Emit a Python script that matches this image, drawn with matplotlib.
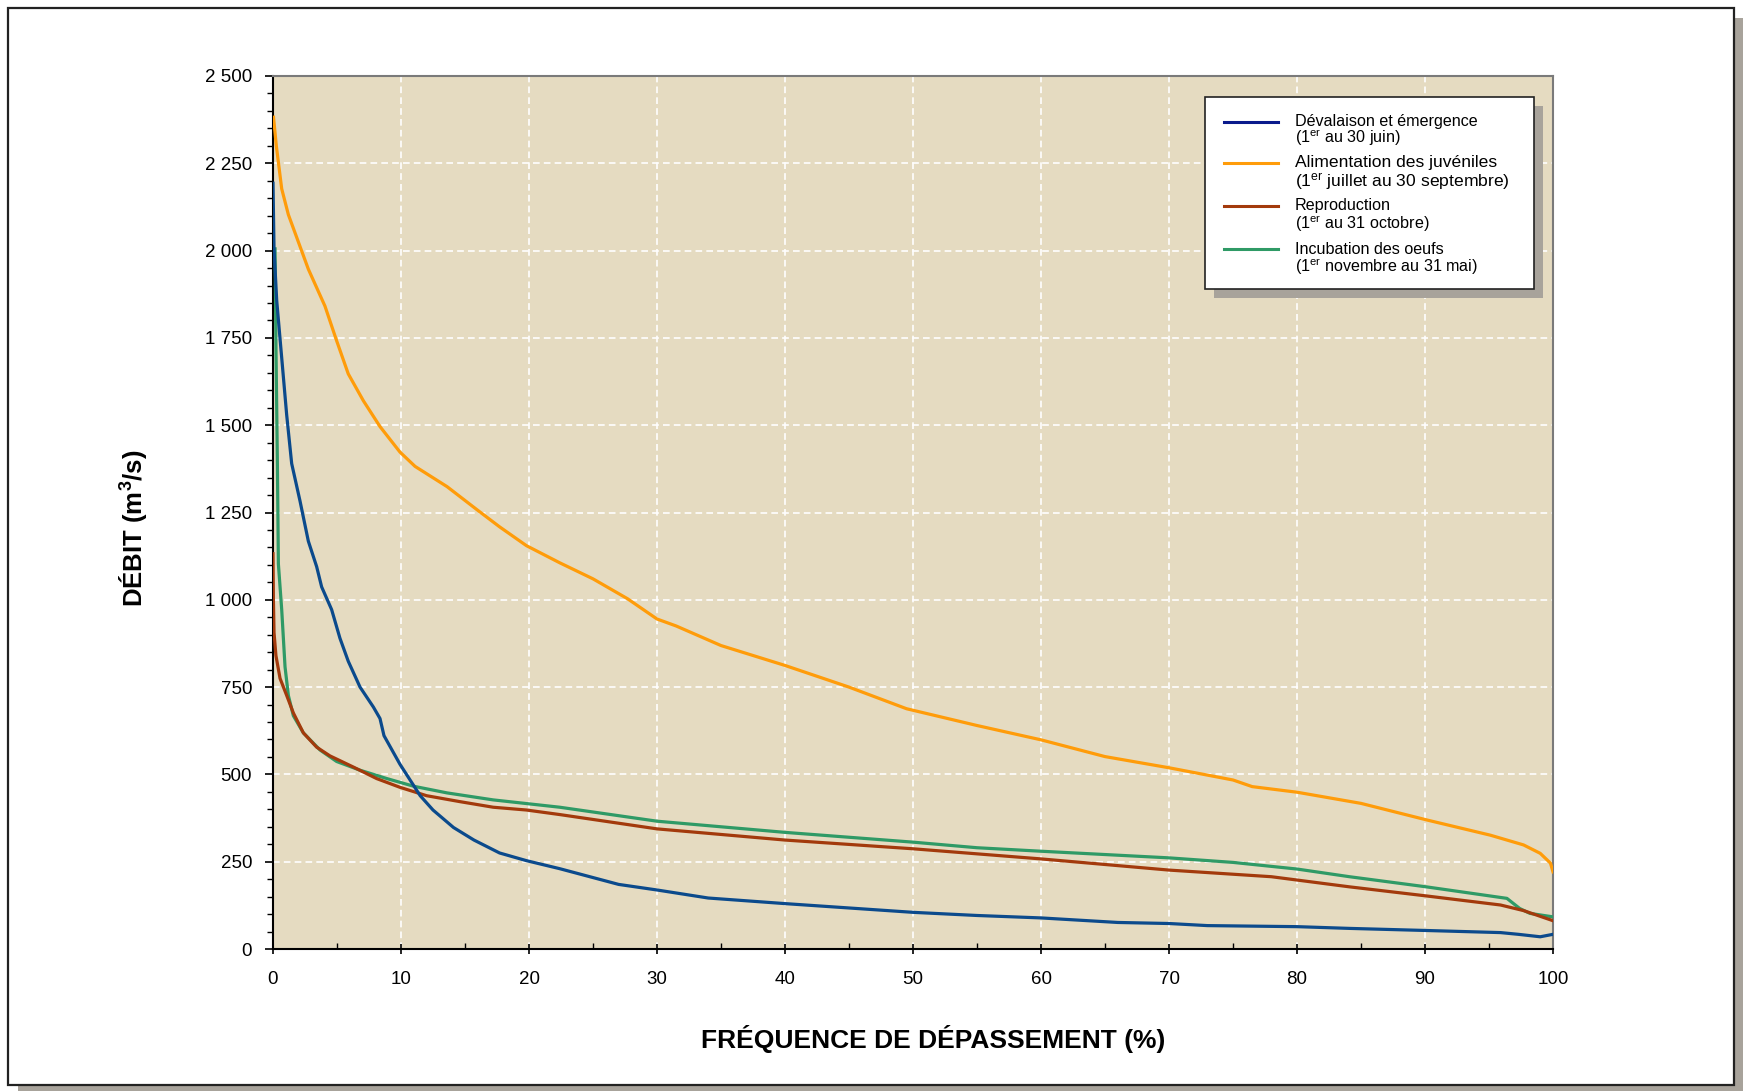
import matplotlib
matplotlib.use("Agg")
import matplotlib.pyplot as plt
from matplotlib.patches import Rectangle
from matplotlib.lines import Line2D
from matplotlib.ticker import MultipleLocator, FuncFormatter

plt.rcParams['font.family'] = ['Liberation Sans', 'DejaVu Sans']
plt.rcParams['mathtext.fontset'] = 'custom'
plt.rcParams['mathtext.rm'] = 'Liberation Sans'
plt.rcParams['mathtext.it'] = 'Liberation Sans:italic'
plt.rcParams['mathtext.bf'] = 'Liberation Sans:bold'

# données
devalaison_x = [0, 0.08, 0.29, 0.68, 1.07, 1.46, 2.11, 2.76, 3.41, 3.8, 4.58, 5.23, 5.88, 6.8,
                7.84, 8.36, 8.67, 9.92, 11.5, 12.5, 14.1, 15.7, 17.7, 19.8, 22.4, 27, 30, 34,
                40, 50, 55, 60, 66, 70, 73, 80, 84.1, 90.1, 95.9, 97.3, 99, 100]
devalaison_y = [2193, 2005, 1857, 1693, 1529, 1390, 1283, 1168, 1095, 1037, 972, 890, 824, 750,
                693, 660, 611, 529, 439, 398, 348, 312, 275, 253, 230, 185, 169, 146,
                130, 105, 96, 89, 76, 73, 67, 64, 59, 53, 47, 42, 35, 42]

alimentation_x = [0.04, 0.26, 0.68, 1.2, 1.85, 2.76, 4.06, 4.97, 5.88, 7.06, 8.36, 9.92, 11.1,
                  13.6, 15.9, 17.7, 19.8, 22.4, 25, 27.7, 30, 31.5, 35, 40, 45, 49.5, 55, 60,
                  65, 70, 75, 76.5, 80, 85, 90.2, 95.1, 97.7, 99.0, 99.8, 100]
alimentation_y = [2382, 2300, 2177, 2103, 2038, 1947, 1841, 1742, 1647, 1570, 1496, 1423, 1382,
                  1324, 1259, 1209, 1155, 1106, 1060, 1003, 945, 925, 869, 812, 750, 688, 640, 599,
                  551, 519, 484, 465, 449, 417, 369, 326, 298, 274, 246, 221]

reproduction_x = [0, 0.03, 0.08, 0.23, 0.55, 1.07, 1.59, 2.37, 3.41, 4.45, 6.28, 8.1, 9.92, 12.0,
                  14.6, 17.2, 19.8, 22.4, 30, 40, 50, 60, 65, 70, 78, 84.1, 90.1, 95.9, 97.7, 100]
reproduction_y = [1132, 1004, 906, 840, 775, 726, 676, 619, 578, 553, 521, 488, 463, 439,
                  422, 406, 398, 385, 344, 312, 287, 258, 242, 226, 207, 178, 152, 126, 110, 81]

incubation_x = [0.16, 0.23, 0.34, 0.42, 0.68, 0.94, 1.2, 1.59, 2.37, 3.67, 4.97, 6.8, 8.9, 11.0,
                13.6, 17.2, 22.4, 30, 40, 50, 55, 60, 70, 75, 80, 84.1, 90.1, 96.4, 97.4, 98.2, 100]
incubation_y = [2005, 1726, 1398, 1103, 972, 808, 726, 668, 619, 570, 537, 512, 488, 466,
                447, 427, 406, 366, 334, 306, 290, 280, 261, 248, 229, 207, 178, 145, 116, 102, 92]

legend_titles = ["Dévalaison et émergence", "Alimentation des juvéniles",
                 "Reproduction", "Incubation des oeufs"]
legend_periods = [r"(1$^{\rm er}$ au 30 juin)", r"(1$^{\rm er}$ juillet au 30 septembre)",
                  r"(1$^{\rm er}$ au 31 octobre)", r"(1$^{\rm er}$ novembre au 31 mai)"]
colors = ['#0b4a8c', '#ff9c0a', '#a33a0c', '#2f9a66']
legend_colors = ['#0a1a8c', '#ff9c0a', '#a33a0c', '#2f9a66']

W, H = 1743, 1091
fig = plt.figure(figsize=(W / 100, H / 100), dpi=100)

# cadre avec ombre
fig.add_artist(Rectangle((18 / W, 0), (W - 18) / W, 1 - 18 / H, transform=fig.transFigure,
                         facecolor='#a8a39b', edgecolor='none', zorder=0))
fig.add_artist(Rectangle((8 / W, 1 - 1085 / H), 1726 / W, 1077 / H, transform=fig.transFigure,
                         facecolor='white', edgecolor='#222222', lw=1.6, zorder=0.5))

ax = fig.add_axes([273 / W, 1 - 949 / H, 1280 / W, 873 / H])
ax.set_facecolor('#e5dbc1')
ax.set_zorder(1)

ax.plot(incubation_x, incubation_y, color=colors[3], lw=2.3, zorder=3)
ax.plot(reproduction_x, reproduction_y, color=colors[2], lw=2.3, zorder=4)
ax.plot(alimentation_x, alimentation_y, color=colors[1], lw=2.3, zorder=4)
ax.plot(devalaison_x, devalaison_y, color=colors[0], lw=2.3, zorder=5)

ax.set_xlim(0, 100)
ax.set_ylim(0, 2500)
ax.xaxis.set_major_locator(MultipleLocator(10))
ax.xaxis.set_minor_locator(MultipleLocator(5))
ax.yaxis.set_major_locator(MultipleLocator(250))
ax.yaxis.set_minor_locator(MultipleLocator(50))
ax.yaxis.set_major_formatter(FuncFormatter(lambda v, p: f"{int(v):,}".replace(",", " ")))

ax.grid(True, which='major', color='white', ls=(0, (4, 2.5)), lw=1.2, zorder=1)
ax.set_axisbelow(True)

ax.tick_params(axis='y', which='major', direction='out', length=6, width=1.2, pad=9,
               labelsize=13.5)
ax.tick_params(axis='y', which='minor', direction='out', length=4, width=1.0)
ax.tick_params(axis='x', which='major', direction='inout', length=7, width=1.2, pad=12,
               labelsize=13.5)
ax.tick_params(axis='x', which='minor', direction='in', length=4.5, width=1.0)

for s in ['left', 'bottom']:
    ax.spines[s].set_color('black')
    ax.spines[s].set_linewidth(1.5)
for s in ['top', 'right']:
    ax.spines[s].set_color('#7a7a7a')
    ax.spines[s].set_linewidth(1.5)

fig.text(933 / W, 1 - 1039 / H, "FRÉQUENCE DE DÉPASSEMENT (%)", ha='center', va='center',
         fontsize=19, fontweight='bold')
fig.text(133 / W, 1 - 528 / H, r"DÉBIT (m$^{\mathbf{3}}$/s)", ha='center', va='center',
         rotation=90, fontsize=18.5, fontweight='bold')

# légende
fig.add_artist(Rectangle((1214 / W, 1 - 298 / H), 329 / W, 192 / H, transform=fig.transFigure,
                         facecolor='#a8a39b', edgecolor='none', zorder=10))
fig.add_artist(Rectangle((1205 / W, 1 - 289 / H), 329 / W, 192 / H, transform=fig.transFigure,
                         facecolor='white', edgecolor='#222222', lw=1.2, zorder=11))
rows = [(121.7, 137.7, 11.6), (162.7, 181.7, 12.6), (205.5, 223.5, 11.6), (249, 267, 11.6)]
for (y1, y2, fs), t, p, c in zip(rows, legend_titles, legend_periods, legend_colors):
    fig.add_artist(Line2D([1224 / W, 1278 / W], [1 - y1 / H, 1 - y1 / H], color=c, lw=2.2,
                          transform=fig.transFigure, zorder=12))
    fig.text(1295 / W, 1 - y1 / H, t, ha='left', va='center', fontsize=fs, zorder=12)
    fig.text(1295 / W, 1 - y2 / H, p, ha='left', va='center', fontsize=fs, zorder=12)

fig.savefig("out.png", dpi=100)
